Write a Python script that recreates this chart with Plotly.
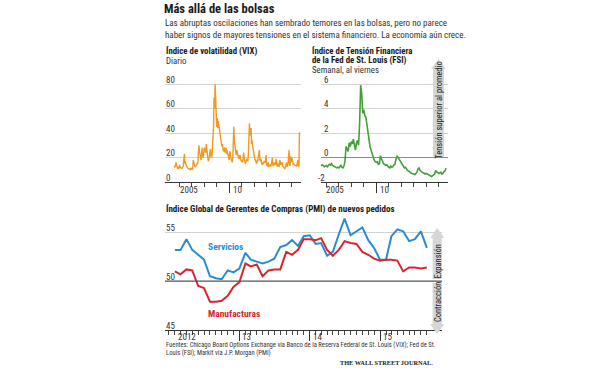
import plotly.graph_objects as go
import pandas as pd

# ---------------- data ----------------
# VIX, two readings per month, Aug 2005 - Aug 2015
vix_values = [
    # 2005 Aug-Dec
    13.0, 12.5, 12.0, 13.5, 16.0, 14.0, 12.0, 11.0, 11.5, 10.5,
    # 2006
    12.0, 14.0, 12.0, 11.5, 11.5, 11.0, 11.5, 12.0, 13.0, 18.0, 23.0, 15.0,
    17.0, 14.0, 13.0, 12.0, 12.0, 11.0, 11.0, 10.5, 10.5, 10.0, 11.0, 10.5,
    # 2007
    11.0, 10.5, 10.5, 18.0, 15.0, 13.0, 13.0, 12.5, 13.0, 13.0, 14.0, 16.0,
    15.0, 24.0, 30.0, 25.0, 21.0, 19.0, 18.0, 22.0, 28.0, 22.0, 20.0, 22.0,
    # 2008
    28.0, 27.0, 26.0, 24.0, 31.0, 25.0, 21.0, 20.0, 17.0, 18.0, 21.0, 24.0,
    27.0, 22.0, 20.0, 21.0, 30.0, 38.0, 45.0, 69.0, 60.0, 80.0, 58.0, 46.0,
    # 2009
    45.0, 52.0, 44.0, 50.0, 47.0, 42.0, 38.0, 36.0, 34.0, 31.0, 29.0, 31.0,
    27.0, 25.0, 26.0, 28.0, 24.0, 25.0, 28.0, 23.0, 26.0, 22.0, 23.0, 20.0,
    # 2010
    18.0, 25.0, 24.0, 20.0, 18.0, 17.0, 16.0, 19.0, 35.0, 45.0, 33.0, 28.0,
    26.0, 24.0, 22.0, 26.0, 23.0, 21.0, 20.0, 19.0, 21.0, 22.0, 18.0, 17.5,
    # 2011
    17.0, 18.0, 16.0, 21.0, 24.0, 20.0, 16.0, 15.0, 16.0, 17.0, 19.0, 18.0,
    17.0, 23.0, 32.0, 48.0, 38.0, 42.0, 44.0, 31.0, 34.0, 30.0, 26.0, 23.0,
    # 2012
    21.0, 19.0, 18.0, 17.0, 16.0, 15.0, 18.0, 17.0, 21.0, 24.0, 26.0, 18.0,
    17.0, 19.0, 15.0, 14.0, 15.0, 14.5, 16.0, 17.0, 17.0, 15.5, 18.0, 22.0,
    # 2013
    13.5, 13.0, 13.0, 16.0, 12.0, 13.5, 14.0, 13.5, 13.0, 14.0, 18.0, 20.0,
    14.0, 13.0, 14.0, 16.0, 15.0, 14.0, 19.0, 13.5, 13.0, 12.5, 15.0, 13.0,
    # 2014
    13.0, 18.0, 17.0, 14.0, 15.0, 14.5, 16.0, 13.0, 12.5, 11.5, 11.0, 11.0,
    12.0, 14.0, 16.0, 12.5, 13.0, 15.0, 22.0, 26.0, 14.0, 13.0, 21.0, 16.0,
    # 2015 Jan-Aug
    20.0, 19.0, 17.0, 14.0, 15.0, 14.0, 13.5, 13.0, 13.0, 13.0, 14.0, 16.0,
    18.0, 12.5, 13.0, 40.7,
]
vix_start = "2005-08-01"

# St. Louis Fed Financial Stress Index, monthly, Aug 2005 - Aug 2015
fsi_values = [
    # 2005 Aug-Dec
    -0.70, -0.60, -0.65, -0.75, -0.70,
    # 2006
    -0.65, -0.75, -0.60, -0.55, -0.60, -0.50, -0.65, -0.70, -0.75, -0.80, -0.85, -0.80,
    # 2007
    -0.85, -0.75, -0.60, -0.80, -0.85, -0.70, -0.30, 0.90, 0.60, 0.50, 1.20, 0.90,
    # 2008
    1.30, 1.10, 1.50, 0.90, 0.60, 1.20, 1.40, 1.00, 2.80, 5.90, 5.20, 3.60,
    # 2009
    3.90, 3.40, 3.30, 2.70, 2.10, 1.30, 0.90, 0.60, 0.30, 0.10, -0.20, -0.35,
    # 2010
    -0.40, -0.35, -0.55, -0.50, 0.15, -0.10, -0.35, -0.50, -0.55, -0.65, -0.60, -0.75,
    # 2011
    -0.80, -0.85, -0.70, -0.80, -0.75, -0.60, -0.55, -0.10, 0.10, 0.00, -0.15, -0.30,
    # 2012
    -0.40, -0.60, -0.75, -0.85, -0.80, -0.95, -1.05, -1.10, -1.20, -1.25, -1.30, -1.30,
    # 2013
    -1.35, -1.40, -1.30, -1.20, -0.95, -0.85, -1.05, -1.15, -1.20, -1.25, -1.30, -1.35,
    # 2014
    -1.30, -1.35, -1.40, -1.40, -1.45, -1.55, -1.50, -1.45, -1.35, -1.05, -1.20, -1.20,
    # 2015 Jan-Aug
    -1.30, -1.25, -1.20, -1.35, -1.30, -1.15, -1.10, -0.85,
]
fsi_start = "2005-08-01"

# Global PMI new orders, monthly Jan 2012 - Aug 2015 (plotted at month end)
pmi_servicios = [
    53.2, 53.2, 54.3, 53.2, 52.7, 52.2, 50.5, 50.3, 50.2, 51.1, 50.9, 51.3,
    52.9, 52.2, 52.0, 51.8, 52.0, 52.3, 53.5, 53.7, 54.2, 53.6, 54.6, 54.7,
    53.8, 53.9, 52.6, 53.0, 54.8, 56.4, 54.7, 55.1, 55.5, 54.2, 53.4, 52.2,
    52.2, 54.6, 55.3, 55.1, 54.1, 54.3, 55.1, 53.4,
]
pmi_manufacturas = [
    51.0, 50.7, 51.2, 51.1, 49.5, 49.3, 47.9, 47.9, 48.0, 48.5, 49.4, 49.9,
    51.8, 51.5, 51.7, 50.5, 51.1, 51.2, 51.2, 53.0, 52.7, 53.2, 54.3, 54.3,
    54.2, 54.4, 53.2, 52.6, 53.2, 54.1, 53.9, 53.8, 53.0, 52.7, 52.3, 52.1,
    52.2, 52.2, 52.1, 51.0, 51.4, 51.4, 51.3, 51.4,
]
pmi_start = "2012-02-01"

vix_yticks = [0, 20, 40, 60, 80]
fsi_yticks = [-2, 0, 2, 4, 6]
pmi_yticks = [45, 50, 55]
vix_xlabels = ["2005", "10"]
vix_xlabel_dates = ["2006-01-01", "2010-01-01"]
fsi_xlabels = ["2005", "10"]
fsi_xlabel_dates = ["2006-01-01", "2010-01-01"]
pmi_xlabels = ["2012", "13", "14", "15"]
pmi_xlabel_dates = ["2012-01-01", "2013-01-01", "2014-01-01", "2015-01-01"]

# ---------------- helpers ----------------
W, H = 600, 370
FONT = "Roboto Condensed, DejaVu Sans Condensed, sans-serif"
DARK = "#1a1a1a"
ORANGE = "#f19a22"
GREEN = "#42a03a"
BLUE = "#2a8bd2"
RED = "#d8262f"
GRID = "#d2d2d2"
ARROW = "#d6d6d6"


def fx(px):
    return px / W


def fy(py):
    return 1 - py / H


def yr(y):
    year = int(y)
    a = pd.Timestamp(year, 1, 1)
    b = pd.Timestamp(year + 1, 1, 1)
    return (a + (b - a) * (y - year)).strftime("%Y-%m-%d %H:%M:%S")


vix_dates = pd.date_range(vix_start, periods=len(vix_values), freq="SMS")
fsi_dates = pd.date_range(fsi_start, periods=len(fsi_values), freq="MS")
pmi_dates = pd.date_range(pmi_start, periods=len(pmi_servicios), freq="MS")

fig = go.Figure()
fig.add_trace(go.Scatter(x=vix_dates, y=vix_values, mode="lines",
                         line=dict(color=ORANGE, width=1.4), xaxis="x", yaxis="y",
                         hoverinfo="skip"))
fig.add_trace(go.Scatter(x=fsi_dates, y=fsi_values, mode="lines",
                         line=dict(color=GREEN, width=1.6), xaxis="x2", yaxis="y2",
                         hoverinfo="skip"))
fig.add_trace(go.Scatter(x=pmi_dates, y=pmi_servicios, mode="lines",
                         line=dict(color=BLUE, width=2), xaxis="x3", yaxis="y3",
                         hoverinfo="skip"))
fig.add_trace(go.Scatter(x=pmi_dates, y=pmi_manufacturas, mode="lines",
                         line=dict(color=RED, width=2), xaxis="x3", yaxis="y3",
                         hoverinfo="skip"))

year_ticks = pd.date_range("2006-01-01", "2015-01-01", freq="YS")
month_ticks = pd.date_range("2012-01-01", "2015-09-01", freq="MS")


def xax(domain, rng, major, minor):
    return dict(domain=[fx(domain[0]), fx(domain[1])], range=rng, type="date",
                showgrid=False, zeroline=False, showline=True, linecolor="#333",
                linewidth=1, tickmode="array", tickvals=major, ticks="outside",
                ticklen=10, tickwidth=1, tickcolor="#333", showticklabels=False,
                minor=dict(tickmode="array", tickvals=minor, ticks="outside",
                           ticklen=3.5, tickwidth=1, tickcolor="#444", showgrid=False),
                fixedrange=True)


def yax(domain, rng, grid):
    return dict(domain=[fy(domain[0]), fy(domain[1])], range=rng, tickmode="array",
                tickvals=grid, showgrid=True, gridcolor=GRID, gridwidth=1,
                showticklabels=False, zeroline=False, showline=False, ticks="",
                fixedrange=True)


# VIX: 2010 at x=229.2 px, 12.5 px per year
fig.update_layout(
    xaxis=dict(xax((165, 301), [yr(2010 - 64.2 / 12.5), yr(2010 + 71.8 / 12.5)],
                   ["2010-01-01"], list(year_ticks)), anchor="y"),
    yaxis=dict(yax((182, 81), [0, 101 / 1.225], vix_yticks[1:]), anchor="x"),
    xaxis2=dict(xax((320.5, 447.5), [yr(2010 - 55.8 / 12.5), yr(2010 + 71.2 / 12.5)],
                    ["2010-01-01"], list(year_ticks)), anchor="y2"),
    yaxis2=dict(yax((182, 81), [-2, -2 + 101 / 12.25], fsi_yticks[1:]), anchor="x2",
                zeroline=True, zerolinecolor="#8a8a8a", zerolinewidth=1),
    xaxis3=dict(xax((165, 442), [yr(2013 - 74.3 / 70.35), yr(2013 + 202.7 / 70.35)],
                    ["2013-01-01", "2014-01-01", "2015-01-01"], list(month_ticks)),
                anchor="y3"),
    yaxis3=dict(yax((330, 215), [45, 45 + 115 / 9.77], [55]), anchor="x3"),
)

shapes = []
# 50 line in PMI panel
shapes.append(dict(type="line", xref="x3 domain", yref="y3", x0=0, x1=1, y0=50, y1=50,
                   line=dict(color="#555", width=1.3), layer="above"))


def arrow_up(cx, tip, base, bottom, hw_head, hw_shaft):
    return (f"M {fx(cx)},{fy(tip)} L {fx(cx + hw_head)},{fy(base)} "
            f"L {fx(cx + hw_shaft)},{fy(base)} L {fx(cx + hw_shaft)},{fy(bottom)} "
            f"L {fx(cx - hw_shaft)},{fy(bottom)} L {fx(cx - hw_shaft)},{fy(base)} "
            f"L {fx(cx - hw_head)},{fy(base)} Z")


for path in [arrow_up(438.5, 59, 69, 156.5, 7.5, 5.5),
             arrow_up(437.2, 228, 238, 279, 7, 4.6),
             arrow_up(437.2, 334, 324, 283, 7, 4.6)]:
    shapes.append(dict(type="path", xref="paper", yref="paper", path=path,
                       fillcolor=ARROW, line=dict(width=0), layer="above"))
fig.update_layout(shapes=shapes)


def text(s, x, y, size, color=DARK, bold=False, xanchor="left", angle=0,
         family=FONT):
    fig.add_annotation(text=f"<b>{s}</b>" if bold else s, x=fx(x), y=fy(y),
                       xref="paper", yref="paper", xanchor=xanchor, yanchor="middle",
                       showarrow=False, textangle=angle, borderpad=0,
                       font=dict(family=family, size=size, color=color))


text("Más allá de las bolsas", 163, 9, 12.5, bold=True)
text("Las abruptas oscilaciones han sembrado temores en las bolsas, pero no parece",
     164, 22.5, 9.0, color="#333")
text("haber signos de mayores tensiones en el sistema financiero. La economía aún crece.",
     164, 34.5, 9.0, color="#333")
text("Índice de volatilidad (VIX)", 165, 51, 8.8, bold=True)
text("Diario", 165, 61, 8.8, color="#333")
text("Índice de Tensión Financiera", 311, 50.5, 8.8, bold=True)
text("de la Fed de St. Louis (FSI)", 311, 60.5, 8.8, bold=True)
text("Semanal, al viernes", 311, 70.5, 8.8, color="#333")
text("Índice Global de Gerentes de Compras (PMI) de nuevos pedidos", 165, 208.5, 9,
     bold=True)
text("Servicios", 207, 246.5, 9.5, color=BLUE, bold=True)
text("Manufacturas", 207, 313, 9.5, color=RED, bold=True)
text("Tensión superior al promedio", 438.8, 110, 8.5, angle=-90, xanchor="center")
text("Expansión", 437.6, 261, 8.5, angle=-90, xanchor="center")
text("Contracción", 437.6, 302.5, 8.5, angle=-90, xanchor="center")
text("Fuentes: Chicago Board Options Exchange vía Banco de la Reserva Federal de St. Louis "
     "(VIX); Fed de St.", 165, 344.5, 6.6, color="#333")
text("Louis (FSI); Markit vía J.P. Morgan (PMI)", 165, 353, 6.6, color="#333")
text("THE WALL STREET JOURNAL.", 434, 362, 6.3, bold=True, xanchor="right",
     family="Liberation Serif, DejaVu Serif, serif")


def ylabels(vals, xref_px, yref, neg_shift=0):
    for v in vals:
        x = xref_px - (neg_shift if v < 0 else 0)
        fig.add_annotation(text=str(v), x=fx(x), y=v, xref="paper", yref=yref,
                           xanchor="left", yanchor="bottom", yshift=-1.5,
                           showarrow=False, borderpad=0,
                           font=dict(family=FONT, size=9, color="#333"))


ylabels(vix_yticks, 165, "y")
ylabels(fsi_yticks, 322.5, "y2", neg_shift=6)
ylabels(pmi_yticks, 165, "y3")


def xlabels(labels, dates, xref, ypx, shifts):
    for lab, d, s in zip(labels, dates, shifts):
        fig.add_annotation(text=lab, x=d, y=fy(ypx), xref=xref, yref="paper",
                           xanchor="left", yanchor="middle", xshift=s,
                           showarrow=False, borderpad=0,
                           font=dict(family=FONT, size=9, color="#333"))


xlabels(vix_xlabels, vix_xlabel_dates, "x", 190.5, [0, 2.5])
xlabels(fsi_xlabels, fsi_xlabel_dates, "x2", 190.5, [-1, 3])
xlabels(pmi_xlabels, pmi_xlabel_dates, "x3", 337, [8, 2, 2, 2])

fig.update_layout(width=W, height=H, autosize=False,
                  margin=dict(l=0, r=0, t=0, b=0),
                  paper_bgcolor="white", plot_bgcolor="white",
                  showlegend=False, font=dict(family=FONT, color=DARK))

fig.write_html("out.html", config={"displayModeBar": False, "staticPlot": True},
               post_script="document.body.style.margin='0px';")
